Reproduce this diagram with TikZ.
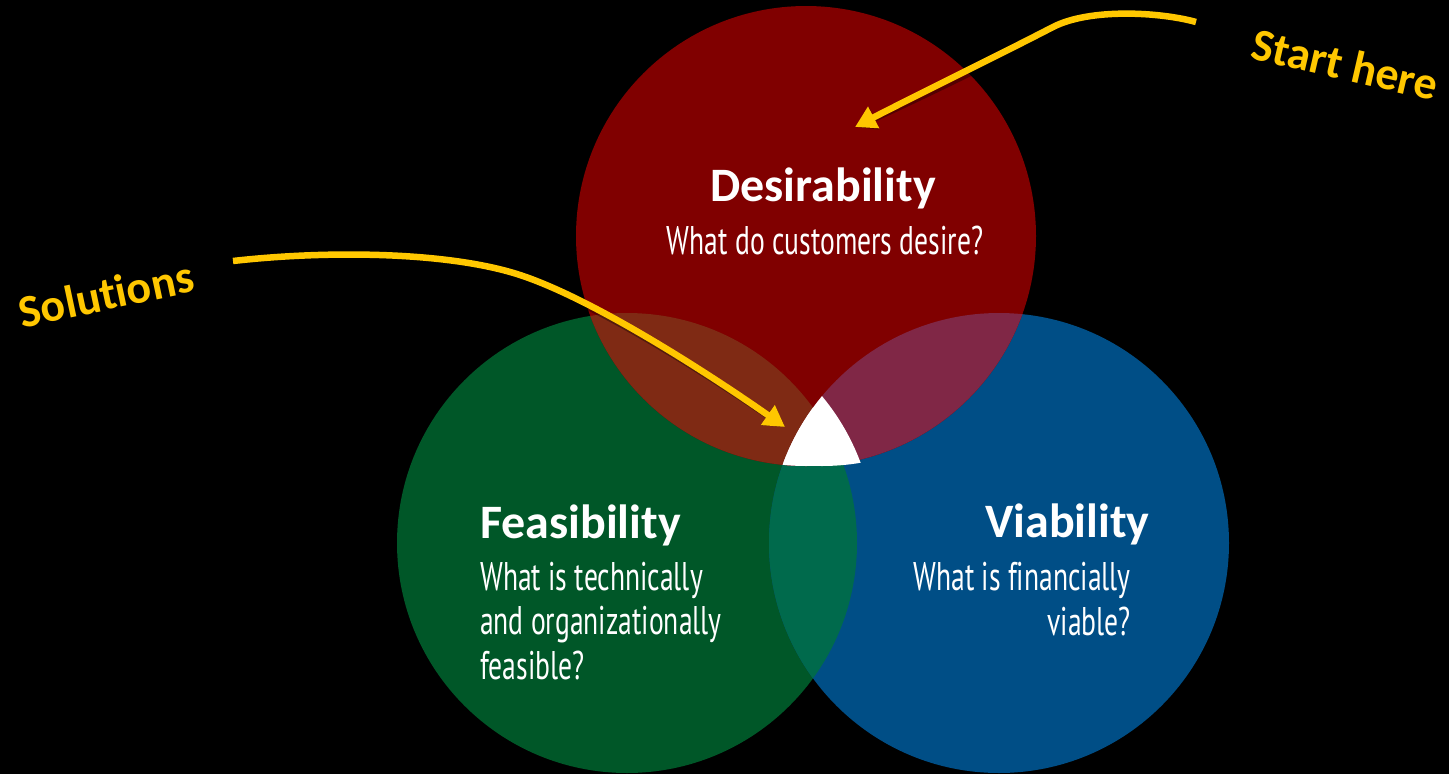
\documentclass[tikz,border=0pt]{standalone}
\usepackage{fontspec}
\setmainfont{Carlito}[Ligatures={NoCommon,NoContextual},Contextuals={NoAlternate}]
\newfontfamily\qfont[FakeStretch=0.69,Ligatures={NoCommon}]{PT Sans}
\usetikzlibrary{arrows.meta}

\definecolor{cred}{RGB}{128,0,0}
\definecolor{cgreen}{RGB}{0,87,40}
\definecolor{cblue}{RGB}{0,78,134}
\definecolor{cteal}{RGB}{0,106,76}
\definecolor{credgreen}{RGB}{127,42,20}
\definecolor{credblue}{RGB}{128,39,70}
\definecolor{gold}{RGB}{255,199,0}

\tikzset{
  head/.style={text=white, inner sep=0pt, font=\bfseries\fontsize{48}{56}\selectfont},
  question/.style={text=white, inner sep=0pt, font=\qfont\fontsize{40}{44}\selectfont},
  callout/.style={text=gold, inner sep=0pt, font=\bfseries\fontsize{46}{54}\selectfont},
  arrowline/.style={draw=gold, line width=6.5pt, -{Triangle[length=21pt,width=23pt]}},
  shadowline/.style={draw=black, opacity=0.35, line width=7pt, shift={(2,3)}, -{Triangle[length=21pt,width=23pt]}},
}

\begin{document}
\begin{tikzpicture}[x=1pt,y=-1pt]
  % canvas
  \fill[black] (0,0) rectangle (1449,774);
  \useasboundingbox (0,0) rectangle (1449,774);

  % circle centres
  \coordinate (R) at (806,236);
  \coordinate (G) at (627,543);
  \coordinate (B) at (999,543);

  % base discs
  \fill[cgreen] (G) circle[radius=230];
  \fill[cblue]  (B) circle[radius=230];
  \begin{scope}
    \clip (G) circle[radius=230];
    \fill[cteal] (B) circle[radius=230];
  \end{scope}
  \fill[cred] (R) circle[radius=230];
  \begin{scope}
    \clip (R) circle[radius=230];
    \fill[credgreen] (G) circle[radius=230];
    \fill[credblue]  (B) circle[radius=230];
  \end{scope}

  % white centre where all three meet
  \begin{scope}
    \clip (R) circle[radius=230];
    \clip (G) circle[radius=230];
    \fill[white] (B) circle[radius=230];
  \end{scope}
  \begin{scope}
    \clip (999,543) circle[radius=230];
    \clip (645,543) circle[radius=230];
    \fill[white] (822,236) circle[radius=230];
  \end{scope}

  % texts
  \node[head, anchor=base] (des) at (823,201) {Desirability};
  \node[question, anchor=base] (desq) at (825,254) {What do customers desire?};

  \node[head, anchor=base west] (fea) at (480,538) {Feasibility};
  \node[question, anchor=base west] (feaq1) at (480,590) {What is technically};
  \node[question, anchor=base west] (feaq2) at (480,634) {and organizationally};
  \node[question, anchor=base west] (feaq3) at (480,679) {feasible?};

  \node[head, anchor=base west] (via) at (985,537) {Viability};
  \node[question, anchor=base east] (viaq1) at (1131,590) {What is financially};
  \node[question, anchor=base east] (viaq2) at (1131,635) {viable?};

  \node[callout, rotate=12] (sol) at (106,294) {Solut\kern0pt ions};
  \node[callout, rotate=-13] (start) at (1345,64) {Start here};

  % pointers
  \coordinate (solsrc) at (233,261);
  \coordinate (soltip) at (785,427);
  \coordinate (startsrc) at (1196,22);
  \coordinate (starttip) at (855,127);
  \def\solpath{(solsrc) .. controls (330,250) and (450,252) .. (520,275)
                        .. controls (590,298) and (699,367) .. (soltip)}
  \def\startpath{(startsrc) .. controls (1160,12) and (1090,8) .. (1053,27)
                        .. controls (997,56) and (917,95) .. (starttip)}
  \draw[shadowline] \solpath;
  \draw[shadowline] \startpath;
  \draw[arrowline] \solpath;
  \draw[arrowline] \startpath;
\end{tikzpicture}
\end{document}
